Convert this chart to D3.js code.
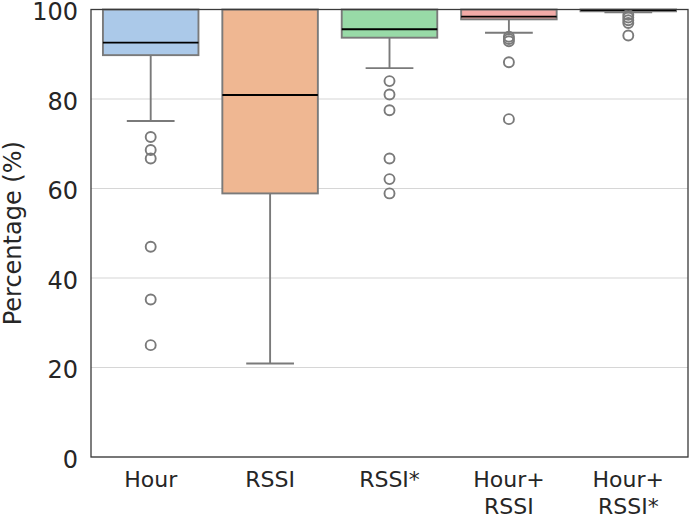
<!DOCTYPE html>
<html>
<head>
<meta charset="utf-8">
<script src="https://cdn.jsdelivr.net/npm/d3@7"></script>
<style>
  html, body { margin: 0; padding: 0; background: #fff; }
  svg { display: block; }
  text { font-family: "DejaVu Sans", sans-serif; fill: #262626; }
</style>
</head>
<body>
<svg id="chart" width="692" height="517"></svg>
<script>
// ---- Data (box statistics) ----
const categories = ["Hour", "RSSI", "RSSI*", "Hour+\nRSSI", "Hour+\nRSSI*"];
const q1Values      = [89.8, 58.9, 93.7, 97.8, 99.6];
const medianValues  = [92.6, 80.9, 95.6, 98.4, 99.9];
const q3Values      = [100, 100, 100, 100, 100];
const whiskerLow    = [75.1, 20.9, 86.9, 94.8, 99.4];
const whiskerHigh   = [100, 100, 100, 100, 100];
const outlierValues = [
  [71.5, 68.6, 66.7, 47.0, 35.2, 25.0],
  [],
  [84.0, 81.0, 77.5, 66.7, 62.1, 58.9],
  [93.9, 93.4, 92.9, 88.2, 75.5],
  [98.8, 98.2, 97.6, 97.0, 94.2]
];
const yTicks = [0, 20, 40, 60, 80, 100];
const colors = ["#abc9e9", "#efb792", "#98daa7", "#f2aaa7", "#d4c4f7"];

// ---- Layout ----
const svg = d3.select("#chart");
const margin = { left: 91, right: 4, top: 9.5, bottom: 60 };
const W = 692, H = 517;
const x = d3.scaleBand().domain(categories).range([margin.left, W - margin.right]).paddingInner(0).paddingOuter(0);
const y = d3.scaleLinear().domain([0, 100]).range([H - margin.bottom, margin.top]);

const lineGray = "#7a7a7a";
const lw = 1.9;

// grid
svg.append("g")
  .selectAll("line").data(yTicks).join("line")
  .attr("x1", margin.left).attr("x2", W - margin.right)
  .attr("y1", d => y(d)).attr("y2", d => y(d))
  .attr("stroke", "#d6d6d6").attr("stroke-width", 1.1);

// y axis labels
const yAxis = d3.axisLeft(y).tickValues(yTicks).tickSize(0).tickPadding(13);
const gy = svg.append("g").attr("transform", `translate(${margin.left},0)`).call(yAxis);
gy.select(".domain").remove();
gy.selectAll("text").style("font-size", "24px").attr("dy", "0.42em")
  .attr("fill", "#262626").style("font-family", "DejaVu Sans");

// x axis labels
const xAxis = d3.axisBottom(x).tickSize(0).tickFormat(() => "");
const gx = svg.append("g").attr("transform", `translate(0,${y(0)})`).call(xAxis);
gx.select(".domain").remove();
gx.selectAll(".tick").each(function(d) {
  const t = d3.select(this).append("text")
    .attr("text-anchor", "middle")
    .style("font-size", "22px")
    .attr("fill", "#262626");
  d.split("\n").forEach((line, i) => {
    t.append("tspan").attr("x", 0).attr("y", 30 + i * 26.5).text(line);
  });
});

// y label
svg.append("text")
  .attr("transform", `translate(21,${(y(0) + y(100)) / 2}) rotate(-90)`)
  .attr("text-anchor", "middle")
  .style("font-size", "24px")
  .text("Percentage (%)");

// boxes
const bw = x.bandwidth() * 0.8;
const boxes = svg.append("g");
categories.forEach((c, i) => {
  const cx = x(c) + x.bandwidth() / 2;
  const g = boxes.append("g");
  // lower whisker
  g.append("line").attr("x1", cx).attr("x2", cx)
    .attr("y1", y(q1Values[i])).attr("y2", y(whiskerLow[i]))
    .attr("stroke", lineGray).attr("stroke-width", lw);
  g.append("line").attr("x1", cx - bw / 4).attr("x2", cx + bw / 4)
    .attr("y1", y(whiskerLow[i])).attr("y2", y(whiskerLow[i]))
    .attr("stroke", lineGray).attr("stroke-width", lw);
  // upper whisker
  g.append("line").attr("x1", cx).attr("x2", cx)
    .attr("y1", y(q3Values[i])).attr("y2", y(whiskerHigh[i]))
    .attr("stroke", lineGray).attr("stroke-width", lw);
  // box
  g.append("rect")
    .attr("x", cx - bw / 2).attr("width", bw)
    .attr("y", y(q3Values[i])).attr("height", y(q1Values[i]) - y(q3Values[i]))
    .attr("fill", colors[i]).attr("stroke", lineGray).attr("stroke-width", lw);
  // median
  g.append("line").attr("x1", cx - bw / 2).attr("x2", cx + bw / 2)
    .attr("y1", y(medianValues[i])).attr("y2", y(medianValues[i]))
    .attr("stroke", "#000").attr("stroke-width", 1.9);
  // outliers
  g.selectAll("circle").data(outlierValues[i]).join("circle")
    .attr("cx", cx).attr("cy", d => y(d)).attr("r", 5)
    .attr("fill", "none").attr("stroke", lineGray).attr("stroke-width", lw);
});

// frame
svg.append("rect")
  .attr("x", margin.left).attr("y", y(100))
  .attr("width", W - margin.right - margin.left).attr("height", y(0) - y(100))
  .attr("fill", "none").attr("stroke", "#3a3a3a").attr("stroke-width", 1.3);
</script>
</body>
</html>
